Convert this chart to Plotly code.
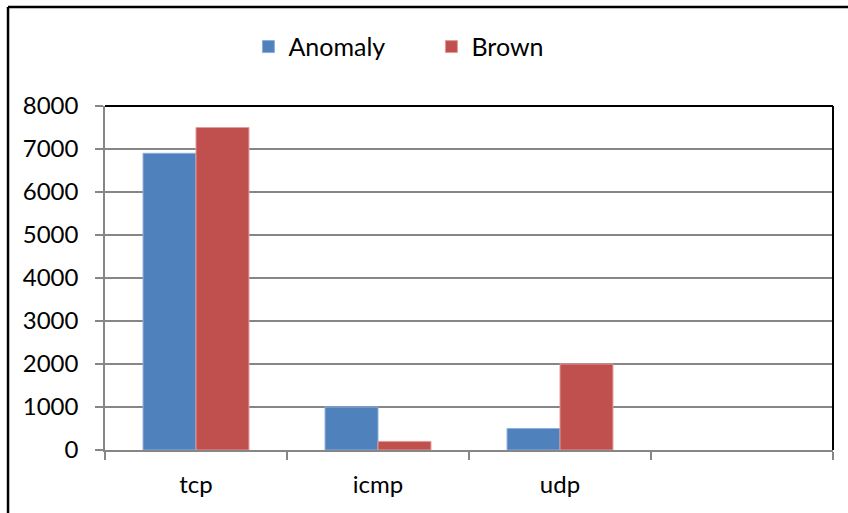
import plotly.graph_objects as go

categories = ["tcp", "icmp", "udp"]
all_categories = ["tcp", "icmp", "udp", " "]
anomaly = [6900, 1000, 500]
brown = [7500, 200, 2000]
y_ticks = [0, 1000, 2000, 3000, 4000, 5000, 6000, 7000, 8000]

FONT = "Lato"
fig = go.Figure()
fig.add_trace(go.Bar(name="Anomaly", x=categories, y=anomaly,
                     marker=dict(color="#4F81BD", line=dict(color="#8EAEDB", width=1))))
fig.add_trace(go.Bar(name="Brown", x=categories, y=brown,
                     marker=dict(color="#C0504D", line=dict(color="#E49A98", width=1))))

fig.update_layout(
    width=848, height=513,
    margin=dict(l=105, r=15, t=106, b=63),
    paper_bgcolor="white", plot_bgcolor="white",
    font=dict(family=FONT, size=24, color="black"),
    barmode="group", bargap=0.418, bargroupgap=0,
    showlegend=True,
    legend=dict(orientation="h", x=0.197, y=1.172, xanchor="left", yanchor="middle",
                entrywidth=138, entrywidthmode="pixels", font=dict(size=25),
                traceorder="normal"),
    xaxis=dict(type="category", categoryorder="array", categoryarray=all_categories,
               range=[-0.5, 3.5], tickson="boundaries", ticks="outside", ticklen=8,
               tickcolor="#868686", tickwidth=1.5, showline=True, linecolor="#868686",
               linewidth=1.5, showgrid=False, ticklabelstandoff=12),
    yaxis=dict(range=[0, 8000], tickvals=y_ticks, ticks="outside", ticklen=8,
               tickcolor="#868686", tickwidth=1.5, showline=True, linecolor="#868686",
               linewidth=1.5, showgrid=True, gridcolor="#868686", gridwidth=1.5,
               zeroline=False, ticklabelstandoff=12),
)

# plot-area border (top/right black)
fig.add_shape(type="line", xref="paper", yref="paper", x0=0, x1=1, y0=1, y1=1,
              line=dict(color="black", width=2))
fig.add_shape(type="line", xref="paper", yref="paper", x0=1, x1=1, y0=0, y1=1,
              line=dict(color="black", width=2))
# outer chart frame (left and top edges visible)
fig.add_shape(type="line", xref="paper", yref="paper", x0=-0.1332, x1=-0.1332,
              y0=-0.2, y1=1.2878, line=dict(color="black", width=2.5))
fig.add_shape(type="line", xref="paper", yref="paper", x0=-0.1332, x1=1.0206,
              y0=1.2878, y1=1.2878, line=dict(color="black", width=2.5))

fig.write_html("out.html")
